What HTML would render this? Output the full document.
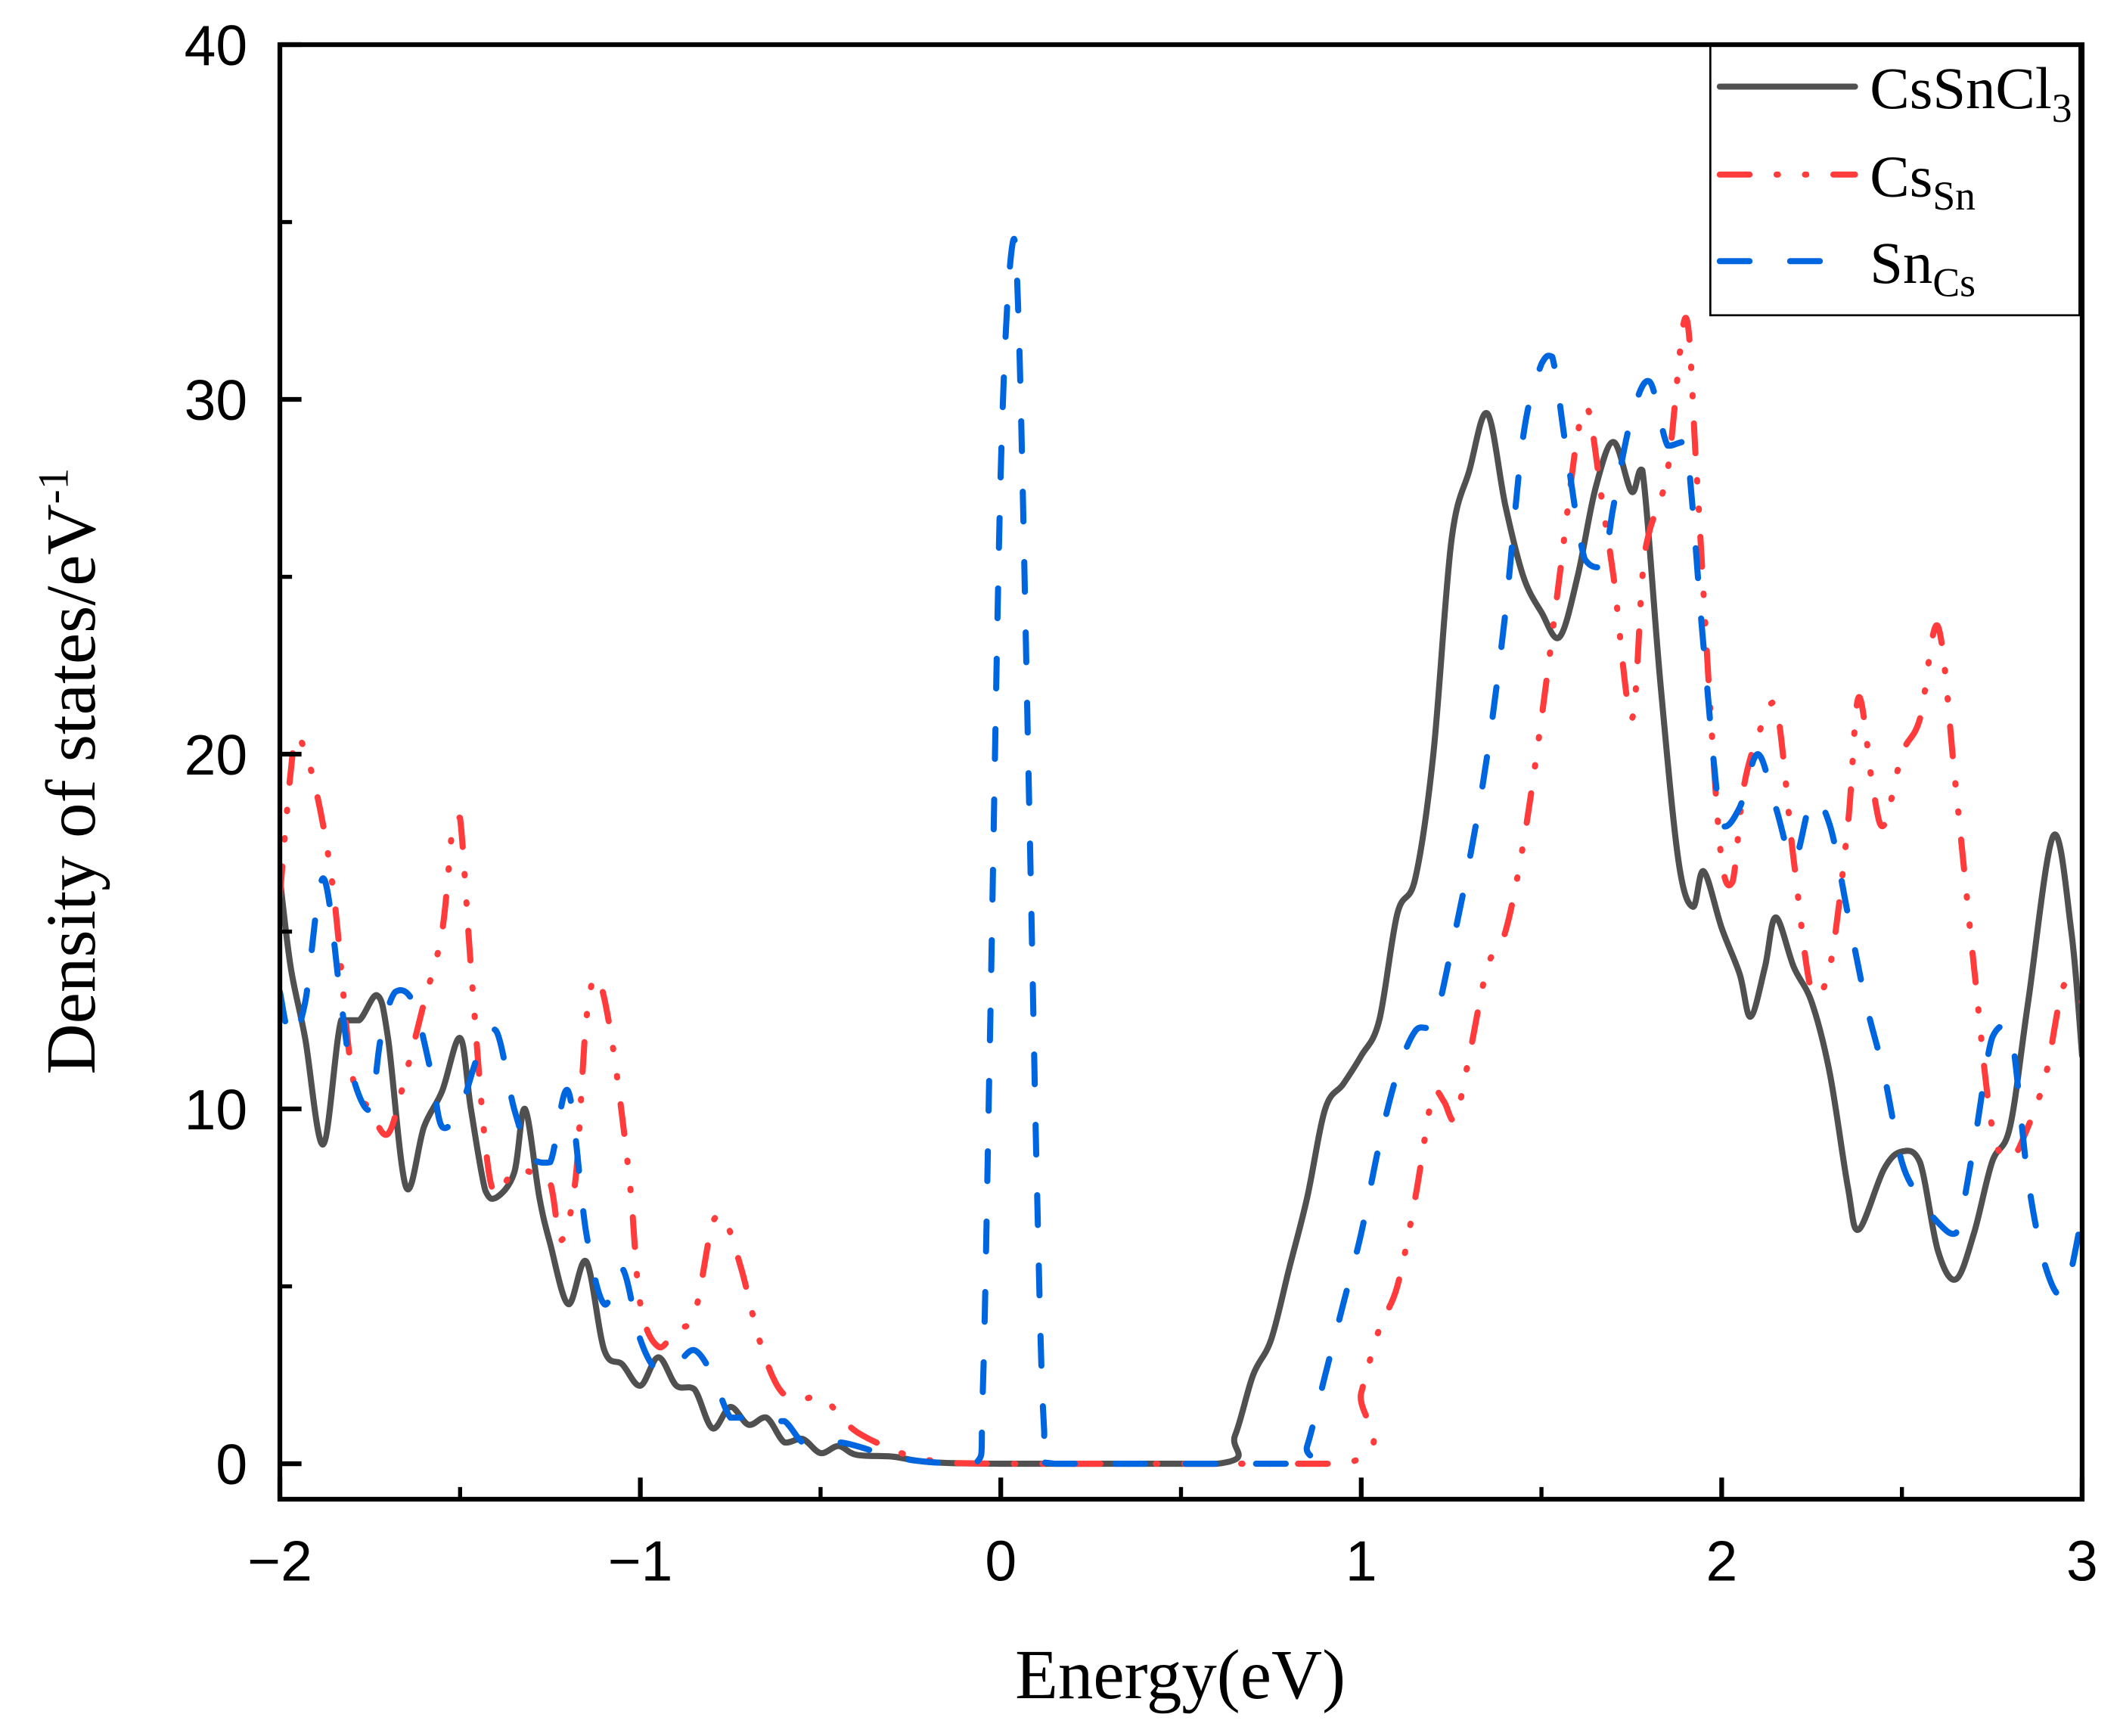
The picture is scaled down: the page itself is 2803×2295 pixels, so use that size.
<!DOCTYPE html>
<html><head><meta charset="utf-8"><style>html,body{margin:0;padding:0;background:#fff}svg{display:block}</style></head>
<body>
<svg id="chart" width="2803" height="2295" viewBox="0 0 1568 1283" preserveAspectRatio="none" xmlns="http://www.w3.org/2000/svg">
<g id="series"></g>
<g id="axes"></g>
<text x="873" y="1255" font-family="Liberation Serif, serif" font-size="52" text-anchor="middle">Energy(eV)</text>
<text transform="translate(70,570) rotate(-90)" font-family="Liberation Serif, serif" font-size="52" text-anchor="middle">Density of states/eV<tspan dy="-20" font-size="32">-1</tspan></text>
<g>
<rect x="1265" y="34" width="273" height="199" fill="#fff" stroke="#000" stroke-width="1.5"/>
<line x1="1272" y1="64" x2="1372" y2="64" stroke="#505050" stroke-width="4.5" stroke-linecap="round"/>
<text x="1383" y="80" font-family="Liberation Serif, serif" font-size="44">CsSnCl<tspan dy="10" font-size="30">3</tspan></text>
<line x1="1272" y1="129" x2="1372" y2="129" stroke="#ff3b3b" stroke-width="4.5" stroke-linecap="round" stroke-dasharray="22 20 1 20 1 20 22"/>
<text x="1383" y="145" font-family="Liberation Serif, serif" font-size="44">Cs<tspan dy="10" font-size="30">Sn</tspan></text>
<line x1="1272" y1="193" x2="1372" y2="193" stroke="#0066e0" stroke-width="4.5" stroke-linecap="round" stroke-dasharray="22 30"/>
<text x="1383" y="209" font-family="Liberation Serif, serif" font-size="44">Sn<tspan dy="10" font-size="30">Cs</tspan></text>
</g>
</svg>
<script>
const energyBlack=[-2,-1.97,-1.93,-1.88,-1.83,-1.78,-1.73,-1.7,-1.65,-1.6,-1.55,-1.5,-1.47,-1.43,-1.4,-1.35,-1.32,-1.28,-1.25,-1.2,-1.15,-1.1,-1.05,-1.0,-0.95,-0.9,-0.85,-0.8,-0.75,-0.7,-0.65,-0.6,-0.55,-0.5,-0.45,-0.4,-0.3,-0.2,0,0.6,0.65,0.7,0.75,0.8,0.85,0.9,0.95,1.0,1.05,1.1,1.15,1.2,1.25,1.3,1.35,1.4,1.45,1.5,1.55,1.6,1.65,1.7,1.75,1.78,1.83,1.88,1.92,1.95,2.0,2.05,2.08,2.12,2.15,2.2,2.25,2.3,2.35,2.38,2.45,2.5,2.55,2.6,2.65,2.7,2.75,2.8,2.85,2.92,2.97,3.0];
const dosBlack=[16.5,14,12,9,12.5,12.5,13.2,12,7.8,9.5,10.5,12,10,7.7,7.5,8.2,10,7.5,6.2,4.5,5.7,3.2,2.8,2.2,3,2.2,2.1,1.0,1.6,1.1,1.3,0.6,0.7,0.3,0.5,0.25,0.2,0.05,0,0,0.8,2.5,3.5,5.5,7.5,10,10.7,11.5,12.5,15.5,16.5,20,26,28,29.6,27,25,24,23.3,25,27.5,28.8,27.4,28,22,17,15.7,16.7,15.1,13.8,12.6,14,15.4,14,13,11,7.8,6.6,8.3,8.8,8.5,6,5.2,6.5,8.5,9.5,13,17.7,15,11.5];
const energyRed=[-2,-1.97,-1.95,-1.9,-1.85,-1.8,-1.75,-1.7,-1.65,-1.6,-1.55,-1.52,-1.5,-1.47,-1.43,-1.4,-1.35,-1.3,-1.25,-1.22,-1.18,-1.15,-1.12,-1.08,-1.03,-1.0,-0.95,-0.9,-0.85,-0.8,-0.77,-0.72,-0.67,-0.62,-0.57,-0.5,-0.45,-0.4,-0.3,-0.2,0,0.95,1.0,1.05,1.1,1.15,1.2,1.23,1.26,1.3,1.35,1.4,1.45,1.5,1.55,1.6,1.63,1.67,1.7,1.75,1.78,1.8,1.85,1.9,1.93,1.97,2.0,2.03,2.06,2.1,2.15,2.2,2.25,2.3,2.35,2.38,2.42,2.45,2.5,2.55,2.6,2.65,2.7,2.75,2.8,2.85,2.9,2.95,3.0];
const dosRed=[16,19.5,20.5,19,16,11,10,9.3,11,13,15,18,18.2,14,9,7.6,8.3,8.2,7.9,6.3,8,12.5,13.7,12,8,4.5,3.3,3.8,4.2,6.8,7,5.5,3.5,2.2,1.8,1.9,1.4,0.9,0.4,0.1,0,0,2,3.8,5,7.5,10.5,10.2,9.7,11.5,14,15,17.5,21,25,29,29.7,27,25,21,25,26.3,28,32.3,28,21,17,16.4,19,20.5,21.4,17,13.3,14,18,21.6,19,18,20,21,23.6,19,14,9.5,8.6,9.5,11,13.5,13];
const energyBlue=[-2,-1.97,-1.93,-1.88,-1.83,-1.8,-1.75,-1.72,-1.68,-1.63,-1.58,-1.55,-1.5,-1.45,-1.4,-1.35,-1.3,-1.25,-1.2,-1.15,-1.1,-1.05,-1.0,-0.95,-0.9,-0.85,-0.8,-0.75,-0.7,-0.65,-0.6,-0.55,-0.5,-0.45,-0.4,-0.3,-0.2,-0.07,-0.05,-0.03,0,0.03,0.05,0.08,0.1,0.12,0.15,0.82,0.85,0.9,0.95,1.0,1.05,1.1,1.15,1.2,1.25,1.3,1.35,1.4,1.45,1.5,1.53,1.57,1.62,1.67,1.7,1.75,1.8,1.85,1.9,1.95,2.0,2.05,2.1,2.15,2.2,2.25,2.3,2.35,2.4,2.45,2.5,2.55,2.6,2.65,2.7,2.75,2.8,2.85,2.9,2.95,3.0];
const dosBlue=[13.3,12,13,16.5,13,11,10,12,13.3,13,11,9.5,10,11.5,12.2,10,8.6,8.5,10.5,6.5,4.5,5.5,3.5,2.6,2.8,3.2,2.5,1.3,1.3,1.2,1.2,0.6,0.5,0.6,0.5,0.2,0.05,0,2,12,28,34.2,32,18,8,1,0,0,0.5,2.5,4.5,6.5,9,11,12.2,12.4,14.5,17,20,24,29,31,31.2,28.5,25.5,25.3,27,29.5,30.5,28.7,28.8,23,18,18.5,20,18.5,17,18.7,18,15.5,13,11,8.5,7.5,6.8,6.5,9,12,12.3,8,5.5,4.8,7];
const xTicks=[-2,-1,0,1,2,3];
const xTickLabels=["\u22122","\u22121","0","1","2","3"];
const yTicks=[0,10,20,30,40];
const yTickLabels=["0","10","20","30","40"];

const L=207,R=1540,T=33,B=1108,XMIN=-2,XMAX=3,YMIN=-1,YMAX=40;
const sx=v=>L+(v-XMIN)/(XMAX-XMIN)*(R-L);
const sy=v=>B-(v-YMIN)/(YMAX-YMIN)*(B-T);
const NS="http://www.w3.org/2000/svg";
const mk=(t,a,p)=>{const e=document.createElementNS(NS,t);for(const k in a)e.setAttribute(k,a[k]);p.appendChild(e);return e;};
const S=document.getElementById('series'),A=document.getElementById('axes');
const clip=mk('clipPath',{id:'pc'},S);mk('rect',{x:L,y:T,width:R-L,height:B-T},clip);

function smooth(xs,ys){const p=xs.map((x,i)=>[sx(x),sy(ys[i])]);let d=`M${p[0][0]},${p[0][1]}`;
 const cl=(y,a,b)=>{const lo=Math.min(a,b),hi=Math.max(a,b);return Math.max(lo-(hi-lo)*0.3,Math.min(hi+(hi-lo)*0.3,y));};
 for(let i=0;i<p.length-1;i++){const p0=p[i-1]||p[i],p1=p[i],p2=p[i+1],p3=p[i+2]||p2;
 const c1=[p1[0]+(p2[0]-p0[0])/6,cl(p1[1]+(p2[1]-p0[1])/6,p1[1],p2[1])],c2=[p2[0]-(p3[0]-p1[0])/6,cl(p2[1]-(p3[1]-p1[1])/6,p1[1],p2[1])];
 d+=` C${c1[0]},${c1[1]} ${c2[0]},${c2[1]} ${p2[0]},${p2[1]}`;}return d;}
const specs=[[energyBlack,dosBlack,'#505050','none','series-cssncl3'],[energyRed,dosRed,'#ff3b3b','22 20 1 20 1 20','series-cssn'],[energyBlue,dosBlue,'#0066e0','22 30','series-sncs']];
for(const [xs,ys,c,da,n] of specs){
 const el=mk('path',{d:smooth(xs,ys),fill:'none',stroke:c,'stroke-width':4.5,'stroke-linecap':'round','stroke-linejoin':'round','stroke-dasharray':da,'clip-path':'url(#pc)'},S);
 
 
}
const frame=mk('rect',{x:L,y:T,width:R-L,height:B-T,fill:'none',stroke:'#000','stroke-width':3.5},A);


xTicks.forEach((v,i)=>{
 mk('line',{x1:sx(v),y1:B,x2:sx(v),y2:B-16,stroke:'#000','stroke-width':3.5},A);
 if(i<xTicks.length-1) mk('line',{x1:sx(v+0.5),y1:B,x2:sx(v+0.5),y2:B-9,stroke:'#000','stroke-width':3},A);
 const t=mk('text',{x:sx(v),y:B+60,'font-family':'Liberation Sans, sans-serif','font-size':42,'text-anchor':'middle'},A);
 t.textContent=xTickLabels[i];
 
 
});
yTicks.forEach((v,i)=>{
 mk('line',{x1:L,y1:sy(v),x2:L+16,y2:sy(v),stroke:'#000','stroke-width':3.5},A);
 if(v+5<=YMAX) mk('line',{x1:L,y1:sy(v+5),x2:L+9,y2:sy(v+5),stroke:'#000','stroke-width':3},A);
 const t=mk('text',{x:L-24,y:sy(v)+15,'font-family':'Liberation Sans, sans-serif','font-size':42,'text-anchor':'end'},A);
 t.textContent=yTickLabels[i];
 
 
});
</script>
</body></html>
